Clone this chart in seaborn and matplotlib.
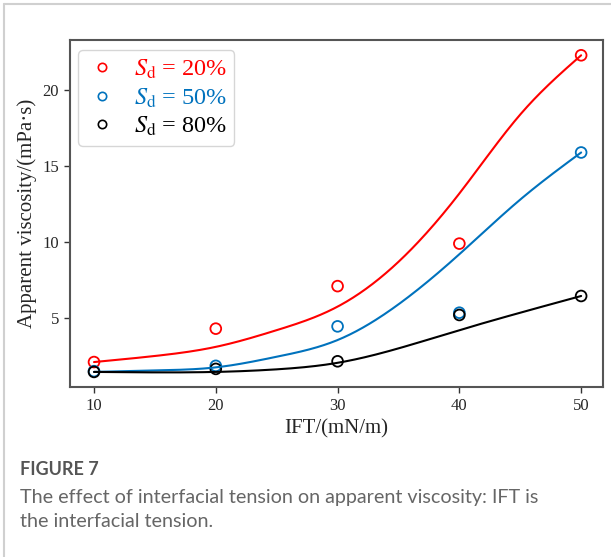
import numpy as np
import pandas as pd
import matplotlib
matplotlib.use("Agg")
import matplotlib.pyplot as plt
import seaborn as sns
from matplotlib.lines import Line2D

# ---- data ----
ift = [10, 20, 30, 40, 50]
visc_20 = [2.1, 4.3, 7.1, 9.9, 22.3]
visc_50 = [1.5, 1.85, 4.45, 5.35, 15.9]
visc_80 = [1.45, 1.65, 2.15, 5.2, 6.45]
# fitted trend values
fit_x = [10, 15, 20, 25, 30, 35, 40, 45, 50]
fit_20 = [2.1, 2.5, 3.1, 4.2, 5.75, 8.7, 13.2, 18.4, 22.3]
fit_50 = [1.45, 1.55, 1.75, 2.45, 3.55, 5.9, 9.2, 12.8, 15.9]
fit_80 = [1.45, 1.42, 1.45, 1.62, 2.05, 3.0, 4.2, 5.35, 6.45]
labels = [r"$S_\mathrm{d}$ = 20%", r"$S_\mathrm{d}$ = 50%", r"$S_\mathrm{d}$ = 80%"]
colors = ["#ff0000", "#0072bd", "#000000"]


def natural_spline(x, y, xs):
    x = np.asarray(x, float)
    y = np.asarray(y, float)
    n = len(x)
    h = np.diff(x)
    A = np.zeros((n, n))
    b = np.zeros(n)
    A[0, 0] = A[-1, -1] = 1
    for i in range(1, n - 1):
        A[i, i - 1] = h[i - 1]
        A[i, i] = 2 * (h[i - 1] + h[i])
        A[i, i + 1] = h[i]
        b[i] = 3 * ((y[i + 1] - y[i]) / h[i] - (y[i] - y[i - 1]) / h[i - 1])
    c = np.linalg.solve(A, b)
    out = np.empty_like(xs)
    idx = np.clip(np.searchsorted(x, xs) - 1, 0, n - 2)
    for k, (xv, i) in enumerate(zip(xs, idx)):
        bi = (y[i + 1] - y[i]) / h[i] - h[i] * (2 * c[i] + c[i + 1]) / 3
        di = (c[i + 1] - c[i]) / (3 * h[i])
        t = xv - x[i]
        out[k] = y[i] + bi * t + c[i] * t ** 2 + di * t ** 3
    return out


sns.set_theme(style="white")
plt.rcParams["font.family"] = ["Liberation Serif", "DejaVu Serif"]
plt.rcParams["mathtext.fontset"] = "stix"

fig = plt.figure(figsize=(6.11, 5.57), dpi=100)
ax = fig.add_axes([0.114, 0.305, 0.873, 0.623])

pts = pd.DataFrame({
    "IFT": ift * 3,
    "visc": visc_20 + visc_50 + visc_80,
    "group": [labels[0]] * 5 + [labels[1]] * 5 + [labels[2]] * 5,
})
xs = np.linspace(10, 50, 300)
curves = []
for lab, fv in zip(labels, [fit_20, fit_50, fit_80]):
    curves.append(pd.DataFrame({"IFT": xs, "visc": natural_spline(fit_x, fv, xs), "group": lab}))
curves = pd.concat(curves)

palette = dict(zip(labels, colors))
sns.lineplot(data=curves, x="IFT", y="visc", hue="group", palette=palette,
             linewidth=1.5, legend=False, ax=ax)
sns.scatterplot(data=pts, x="IFT", y="visc", hue="group", palette=palette,
                marker="o", s=60, linewidth=1.3, ax=ax, legend=False)
coll = ax.collections[-1]
coll.set_edgecolors(coll.get_facecolors())
coll.set_facecolors("none")

ax.set_xlim(8.0, 51.8)
ax.set_ylim(0.45, 23.3)
ax.set_xticks([10, 20, 30, 40, 50])
ax.set_yticks([5, 10, 15, 20])
ax.set_xlabel("IFT/(mN/m)", fontsize=15)
ax.set_ylabel("Apparent viscosity/(mPa·s)", fontsize=15)
ax.tick_params(axis="both", labelsize=12, direction="out", length=4, width=1,
               color="#333333", bottom=True, left=True)
for sp in ax.spines.values():
    sp.set_color("#555555")
    sp.set_linewidth(1.5)

handles = [Line2D([], [], marker="o", linestyle="none", markerfacecolor="none",
                  markeredgecolor=c, markersize=6, markeredgewidth=1.2) for c in colors]
leg = ax.legend(handles, labels, loc="upper left", fontsize=17.5, frameon=True,
                handlelength=1.4, handletextpad=0.6, borderpad=0.3,
                labelspacing=0.22, borderaxespad=0.35,
                bbox_to_anchor=(0.0, 0.995))
leg.get_frame().set_edgecolor("#cccccc")
for t, c in zip(leg.get_texts(), colors):
    t.set_color(c)

# screenshot frame lines
fig.add_artist(Line2D([0.0065, 1], [0.992, 0.992], color="#d0d0d0", linewidth=1.5))
fig.add_artist(Line2D([0.0065, 0.0065], [0, 0.992], color="#d0d0d0", linewidth=1.5))

fig.text(0.033, 0.148, "FIGURE 7", fontsize=13, color="#555555",
         family=["Lato", "DejaVu Sans"], fontweight="bold")
fig.text(0.033, 0.097, "The effect of interfacial tension on apparent viscosity: IFT is",
         fontsize=14.2, color="#666666", family=["Lato", "DejaVu Sans"])
fig.text(0.033, 0.054, "the interfacial tension.",
         fontsize=14.2, color="#666666", family=["Lato", "DejaVu Sans"])

fig.savefig("out.png", dpi=100)
